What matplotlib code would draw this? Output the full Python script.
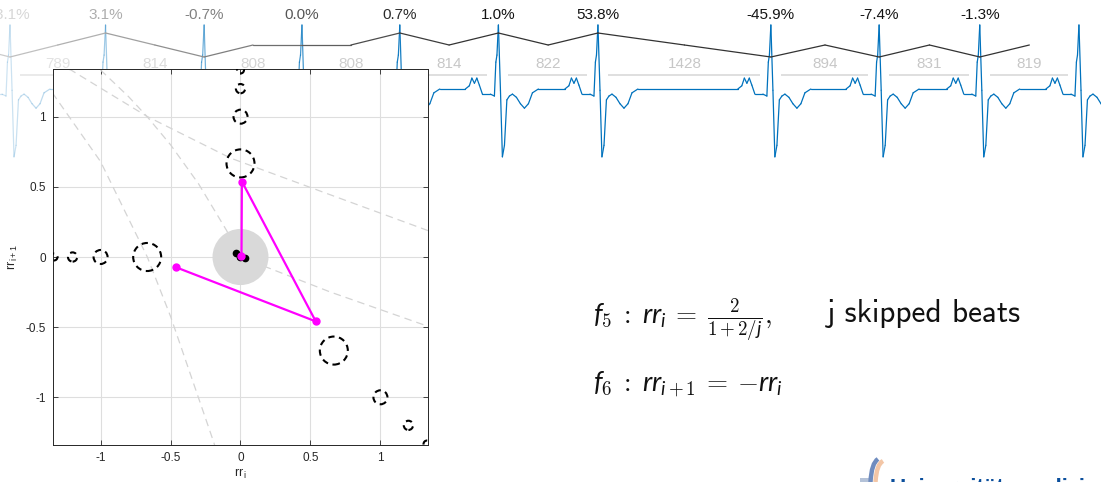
import numpy as np
import matplotlib
matplotlib.use("Agg")
import matplotlib.pyplot as plt
from matplotlib.collections import LineCollection
from matplotlib.patches import Circle, PathPatch, Rectangle
from matplotlib.path import Path

# ---------------------------------------------------------------- data
# RR intervals (ms) between consecutive R peaks
rr_ms = [789, 814, 808, 808, 814, 822, 1428, 894, 831, 819]
# relative RR change at each labelled beat (%)
rr_rel_pct = [-3.1, 3.1, -0.7, 0.0, 0.7, 1.0, 53.8, -45.9, -7.4, -1.3]
rr_rel_text = ["-3.1%", "3.1%", "-0.7%", "0.0%", "0.7%", "1.0%",
               "53.8%", "-45.9%", "-7.4%", "-1.3%"]

# one heart beat of the ECG lead, relative to its R peak (ms, mV)
beat_pre_ms = [-273, -240, -219, -198, -178, -157, -132, -66, -33, -21, -12, 0]
beat_pre_mv = [0.0, 0.05, 0.17, 0.09, 0.17, 0.06, -0.08, -0.08, -0.11, 0.42, 0.53, 1.0]
beat_post_ms = [17, 33, 50, 70, 91, 116, 149, 182, 215, 248, 281, 330]
beat_post_mv = [-0.02, -1.06, -0.88, -0.17, -0.11, -0.08, -0.13, -0.23, -0.30, -0.23, -0.06, 0.0]

# skipped-beat positions f5(j) for j = 1..4 and the drawn tolerance radius
skip_rr = [0.667, 1.0, 1.2, 1.333]
skip_radius = [0.1, 0.05, 0.033, 0.025]
normal_radius = 0.2

# region borders in the (rr_i, rr_i+1) return map
border_a_x = [-1.40, -1.214, -0.666, -0.071, 0.643, 1.357]
border_a_y = [1.38, 1.334, 1.001, 0.705, 0.443, 0.182]
border_b_x = [-1.0, -0.8, -0.667, -0.5, -0.3, -0.1, 0.0]
border_b_y = [1.333, 1.143, 1.0, 0.8, 0.522, 0.19, 0.0]
border_c_x = [-1.40, -1.334, -1.0, -0.666, -0.5, -0.19, -0.18]
border_c_y = [1.24, 1.155, 0.68, 0.0, -0.423, -1.324, -1.36]
border_d_x = [0.0, 0.643, 1.357]
border_d_y = [0.0, -0.25, -0.5]

tick_vals = [-1, -0.5, 0, 0.5, 1]
tick_text = ["-1", "-0.5", "0", "0.5", "1"]

# ---------------------------------------------------------------- figure
plt.rcParams["font.family"] = ["Liberation Sans", "DejaVu Sans"]
plt.rcParams["axes.unicode_minus"] = False
plt.rcParams["mathtext.fontset"] = "custom"
plt.rcParams["mathtext.rm"] = "cmr10"
plt.rcParams["mathtext.it"] = "Lato:italic"
plt.rcParams["mathtext.fallback"] = "cm"

W, H = 1101, 482
fig = plt.figure(figsize=(W / 100, H / 100), dpi=100)

beat_t = np.concatenate([[0.0], np.cumsum(rr_ms)])
ms_per_px = 1 / 0.1211
t_left = -10 * ms_per_px
t_right = t_left + W * ms_per_px
t_full = t_left + 450 * ms_per_px


def fade(t):
    return np.clip((np.asarray(t, float) - t_left) / (t_full - t_left), 0, 1)


def gradient_line(axis, t, v, col_fn, lw):
    pts = np.column_stack([t, v])
    segs = np.stack([pts[:-1], pts[1:]], axis=1)
    mids = 0.5 * (np.asarray(t)[:-1] + np.asarray(t)[1:])
    axis.add_collection(LineCollection(segs, colors=[col_fn(m) for m in mids],
                                       linewidths=lw, capstyle="round"))


# ---------------------------------------------------------------- ECG strip
ax_s = fig.add_axes([0, 0, 1, 1], zorder=0)
ax_s.set_xlim(t_left, t_right)
ax_s.set_ylim(89 / 64 - H / 64, 89 / 64)
ax_s.axis("off")

ecg_t, ecg_v = [], []
for b in beat_t:
    ecg_t += list(b + np.array(beat_pre_ms)) + list(b + np.array(beat_post_ms))
    ecg_v += beat_pre_mv + beat_post_mv
gradient_line(ax_s, np.array(ecg_t), np.array(ecg_v),
              lambda m: (0.0, 0.447, 0.741, 0.18 + 0.82 * float(fade(m))), 0.9)

xt = ax_s.get_xaxis_transform()

# RR interval labels with their grey bars
for k, rr in enumerate(rr_ms):
    tm = 0.5 * (beat_t[k] + beat_t[k + 1])
    g = 0.9 - 0.12 * fade(tm)
    ax_s.text(tm, 1 - 63.5 / H, str(rr), transform=xt, ha="center", va="center",
              fontsize=11, color=(g, g, g))
    gl = 0.9 - 0.06 * fade(tm)
    ax_s.plot([beat_t[k] + 83, beat_t[k + 1] - 91], [1 - 75 / H] * 2, transform=xt,
              color=(gl, gl, gl), lw=1.1, solid_capstyle="butt")

# relative change labels above the beats
for k, txt in enumerate(rr_rel_text):
    g = 0.86 - 0.78 * fade(beat_t[k])
    ax_s.text(beat_t[k], 1 - 15 / H, txt, transform=xt, ha="center", va="center",
              fontsize=11, color=(g, g, g))

# trend line through the sign of each change (zero half-way between beats)
ax_tr = fig.add_axes([0, 0, 1, 1], zorder=0.5)
ax_tr.set_xlim(t_left, t_right)
ax_tr.set_ylim(45 / 12 - H / 12, 45 / 12)
ax_tr.axis("off")
ax_tr.patch.set_alpha(0)

node_t = [beat_t[0] - rr_ms[0] / 2]
node_v = [0.0]
for k in range(len(rr_rel_pct)):
    node_t += [beat_t[k], 0.5 * (beat_t[k] + beat_t[k + 1])]
    node_v += [float(np.sign(rr_rel_pct[k])), 0.0]


def trend_col(m):
    g = 0.8 - 0.6 * float(fade(m))
    return (g, g, g, 1.0)


gradient_line(ax_tr, np.array(node_t), np.array(node_v), trend_col, 0.9)

# ---------------------------------------------------------------- return map
ax = fig.add_axes([53 / W, 1 - 445 / H, 375 / W, 376 / H], zorder=2)
ax.set_facecolor("white")
lim = 1.34
ax.set_xlim(-lim, lim)
ax.set_ylim(-lim, lim)
ax.set_xticks(tick_vals, tick_text)
ax.set_yticks(tick_vals, tick_text)
ax.tick_params(direction="in", length=3.5, width=0.6, top=True, right=True,
               labelsize=8.5, colors="#262626", pad=5)
for sp in ax.spines.values():
    sp.set_color("#262626")
    sp.set_linewidth(0.7)
ax.grid(True, color="#dedede", lw=0.8)
ax.set_axisbelow(True)
ax.set_xlabel(r"$\mathregular{rr_{\,i}}$", fontsize=9, color="#262626", labelpad=2)
ax.set_ylabel(r"$\mathregular{rr_{\,i+1}}$", fontsize=9, color="#262626", labelpad=4)

for bx, by in [(border_a_x, border_a_y), (border_b_x, border_b_y),
               (border_c_x, border_c_y), (border_d_x, border_d_y)]:
    ax.plot(bx, by, color="#d4d4d4", lw=0.9, ls=(0, (6, 4)), zorder=1)

for r, rad in zip(skip_rr, skip_radius):
    for cx, cy in [(0, r), (-r, 0), (r, -r)]:
        ax.add_patch(Circle((cx, cy), rad, fill=False, ec="black", lw=1.5,
                            ls=(0, (3.0, 2.2)), zorder=3))

ax.add_patch(Circle((0, 0), normal_radius, fc="#d9d9d9", ec="none", zorder=2))

rr = np.array(rr_rel_pct) / 100
pair_x, pair_y = rr[:-1], rr[1:]
ax.plot(pair_x[:4], pair_y[:4], "o", color="black", ms=4.5, zorder=4)
ax.plot(pair_x[4:8], pair_y[4:8], "-o", color="#ff00ff", ms=5, lw=1.6, zorder=5)

# ---------------------------------------------------------------- formulas
fig.text(593 / W, 1 - 324 / H, r"$f_5\ :\ rr_i\;=\;\frac{2}{1+2/j},$", fontsize=19.5,
         va="baseline", color="#111111")
fig.text(827 / W, 1 - 322 / H, "j skipped beats", fontsize=22.5, family="cmss10",
         va="baseline", color="#111111")
fig.text(593 / W, 1 - 390 / H, r"$f_6\ :\ rr_{i+1}\;=\;{-}rr_i$", fontsize=19.5,
         va="baseline", color="#111111")

# ---------------------------------------------------------------- logo corner
ax_l = fig.add_axes([855 / W, 0, 45 / W, 30 / H], zorder=3)
ax_l.set_xlim(0, 45)
ax_l.set_ylim(0, 30)
ax_l.axis("off")
ax_l.add_patch(Rectangle((5, 0), 10, 4.5, fc="#b4c2d8", ec="none"))
ax_l.add_patch(PathPatch(Path([(15.5, 0), (16.5, 19), (23, 23)],
                              [Path.MOVETO, Path.CURVE3, Path.CURVE3]),
                         fill=False, ec="#6f8cbf", lw=3.2))
ax_l.add_patch(PathPatch(Path([(20.5, 0), (21.5, 18), (28, 21)],
                              [Path.MOVETO, Path.CURVE3, Path.CURVE3]),
                         fill=False, ec="#f3c6a6", lw=3.2))
fig.text(890 / W, 1 - 494 / H, "Universitätsmedizin", fontsize=16, color="#0b4f9c",
         fontweight="bold", va="baseline")

fig.savefig("out.png", dpi=100)
